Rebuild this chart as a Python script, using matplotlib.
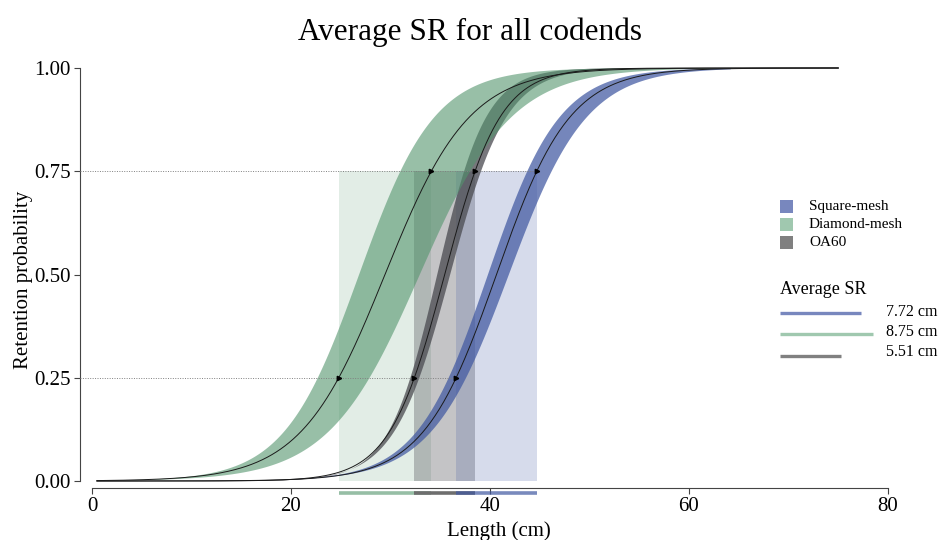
import numpy as np
import matplotlib
matplotlib.use("Agg")
import matplotlib.pyplot as plt
from matplotlib.patches import Rectangle

plt.rcParams['font.family'] = ['Liberation Serif', 'DejaVu Serif']

# ---- data ----
series = ["Square-mesh", "Diamond-mesh", "OA60"]
L25 = [36.6, 24.8, 32.4]          # length at 25 % retention (cm)
L75 = [44.7, 34.1, 38.5]          # length at 75 % retention (cm)
band_lo_L25 = [35.85, 22.7, 32.0]  # left/upper edge of the confidence band
band_lo_L75 = [43.75, 31.0, 37.4]
band_hi_L25 = [37.6, 27.9, 32.9]   # right/lower edge of the confidence band
band_hi_L75 = [46.2, 38.0, 39.1]
sr_labels = ["7.72 cm", "8.75 cm", "5.51 cm"]
x_ticks = [0, 20, 40, 60, 80]
y_ticks = [0.00, 0.25, 0.50, 0.75, 1.00]

band_colors = ["#4058A1", "#53956D", "#4A4A50"]
band_alpha = [0.72, 0.6, 0.75]
rect_colors = ["#4058A1", "#53956D", "#3D3D44"]
rect_alpha = [0.21, 0.17, 0.30]
legend_colors = ["#7887BE", "#A0C8AF", "#808080"]
bar_colors = ["#4058A1", "#96BEA5", "#6E6E6E"]
bar_alpha = [0.7, 1.0, 1.0]


def logistic(x, l25, l75):
    l50 = 0.5 * (l25 + l75)
    sr = l75 - l25
    return 1.0 / (1.0 + np.exp(-2 * np.log(3) * (x - l50) / sr))


fig = plt.figure(figsize=(9.41, 5.4), dpi=100)
ax = fig.add_axes([0.08502, 0.0748, 0.8904, 0.8146])
ax.set_xlim(-1.2, 83)
ax.set_ylim(-0.045, 1.02)

x_band = np.linspace(0.5, 64.2, 600)
x_line = np.linspace(0.5, 75, 700)

# rectangles L25..L75 up to 0.75
rect_order = [1, 2, 0]
for i in rect_order:
    ax.add_patch(Rectangle((L25[i], 0), L75[i] - L25[i], 0.75,
                           facecolor=rect_colors[i], alpha=rect_alpha[i],
                           edgecolor='none', zorder=1))

# bands: OA60, diamond, square
band_order = [2, 1, 0]
for i in band_order:
    upper = logistic(x_band, band_lo_L25[i], band_lo_L75[i])
    lower = logistic(x_band, band_hi_L25[i], band_hi_L75[i])
    ax.fill_between(x_band, lower, upper, facecolor=band_colors[i],
                    alpha=band_alpha[i], edgecolor='none', zorder=2)

# centre lines
for i in band_order:
    ax.plot(x_line, logistic(x_line, L25[i], L75[i]), color='#1a1a1a',
            lw=0.7, zorder=4)

# dotted reference lines
ax.plot([-1.2, max(L25)], [0.25, 0.25], color='#808080', lw=0.7,
        ls=(0, (1, 1.5)), zorder=5)
ax.plot([-1.2, max(L75)], [0.75, 0.75], color='#808080', lw=0.7,
        ls=(0, (1, 1.5)), zorder=5)
ax.plot(L25, [0.25] * 3, ls='none', marker='>', ms=3.2, color='black', zorder=6)
ax.plot(L75, [0.75] * 3, ls='none', marker='>', ms=3.2, color='black', zorder=6)

# SR bars below axis
for i in rect_order:
    ax.plot([L25[i], L75[i]], [-0.029, -0.029], color=bar_colors[i],
            alpha=bar_alpha[i], lw=2.6, solid_capstyle='butt',
            clip_on=False, zorder=5)

# legend (patches)
leg_x = 69.15
leg_y = [0.6645, 0.6221, 0.5775]
for i in range(3):
    ax.add_patch(Rectangle((leg_x, leg_y[i] - 0.0158), 1.3, 0.0315,
                           facecolor=legend_colors[i], edgecolor='none',
                           clip_on=False, zorder=6))
    ax.text(72.06, leg_y[i], series[i], fontsize=11, va='center', ha='left',
            zorder=6)

ax.text(leg_x, 0.4627, "Average SR", fontsize=13, va='center', ha='left')
sr_line_y = [0.406, 0.355, 0.3035]
sr_text_y = [0.4087, 0.361, 0.3125]
for i in range(3):
    ax.plot([leg_x, leg_x + (L75[i] - L25[i])], [sr_line_y[i]] * 2,
            color=legend_colors[i], lw=2.4, solid_capstyle='butt',
            clip_on=False)
    ax.text(79.8, sr_text_y[i], sr_labels[i], fontsize=11.5, va='center',
            ha='left')

# axes styling
for s in ['top', 'right']:
    ax.spines[s].set_visible(False)
ax.spines['left'].set_bounds(0, 1)
ax.spines['bottom'].set_position(('data', -0.016))
ax.spines['bottom'].set_bounds(0, 80)
for s in ['left', 'bottom']:
    ax.spines[s].set_color('#444444')
    ax.spines[s].set_linewidth(0.8)

ax.set_xticks(x_ticks)
ax.set_yticks(y_ticks)
ax.set_yticklabels([f"{v:.2f}" for v in y_ticks])
ax.tick_params(axis='both', labelsize=15, color='#444444', width=0.8,
               length=4, pad=2.5)

ax.set_xlabel("Length (cm)", fontsize=15, labelpad=4)
ax.set_ylabel("Retention probability", fontsize=15, labelpad=1)

fig.text(0.5, 1 - 32 / 540, "Average SR for all codends", fontsize=22.5,
         ha='center', va='center')

fig.savefig("out.png", dpi=100)
